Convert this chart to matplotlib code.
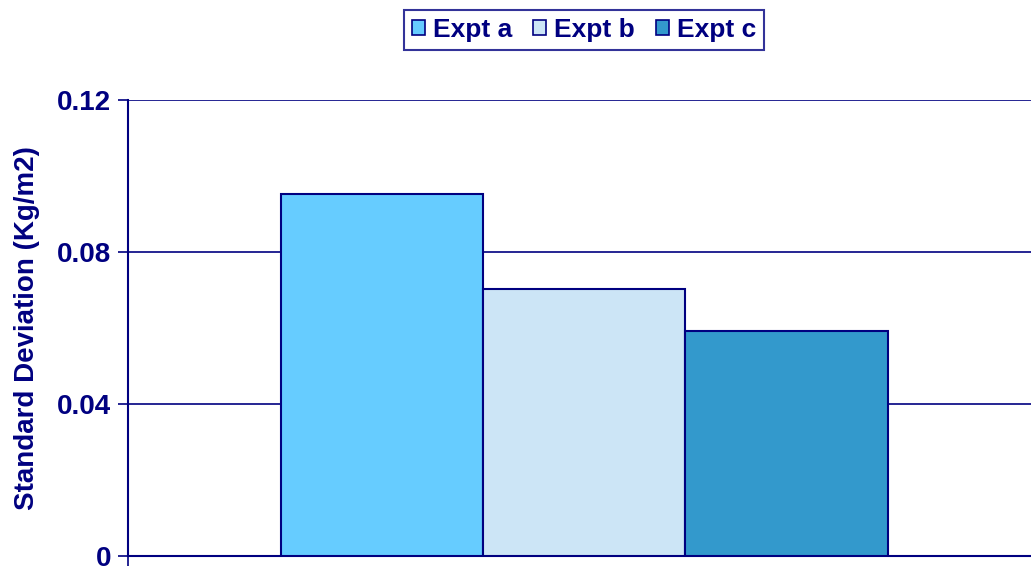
import matplotlib.pyplot as plt
from matplotlib.patches import Patch

plt.rcParams['font.family'] = ['Liberation Sans', 'DejaVu Sans']

series = ['Expt a', 'Expt b', 'Expt c']
values = [0.0953, 0.0703, 0.0592]
colors = ['#66CCFF', '#CCE5F6', '#3399CC']
yticks = [0, 0.04, 0.08, 0.12]
ytick_labels = ['0', '0.04', '0.08', '0.12']

navy = '#000080'

fig = plt.figure(figsize=(10.31, 5.66), dpi=100)
ax = fig.add_axes([128 / 1031, 10 / 566, 1 - 128 / 1031 + 0.01, 456 / 566])

pos = [-1, 0, 1]
ax.bar(pos, values, width=1.0, color=colors, edgecolor=navy, linewidth=1.5, zorder=3)

ax.set_xlim(-2.257, 2.26)
ax.set_ylim(0, 0.12)
ax.set_yticks(yticks)
ax.set_yticklabels(ytick_labels, fontsize=20, fontweight='bold', color=navy)
ax.set_xticks([-2.257])
ax.set_xticklabels([''])
ax.tick_params(axis='y', direction='out', length=7, width=1.2, color=navy, pad=5)
ax.tick_params(axis='x', direction='out', length=7, width=1.2, color=navy)

ax.grid(axis='y', color=navy, linewidth=1.2, zorder=0)
for s in ['top', 'right']:
    ax.spines[s].set_visible(False)
ax.spines['left'].set_color(navy)
ax.spines['left'].set_linewidth(1.5)
ax.spines['bottom'].set_color(navy)
ax.spines['bottom'].set_linewidth(1.5)

ax.set_ylabel('Standard Deviation (Kg/m2)', fontsize=20, fontweight='bold',
              color=navy, labelpad=12)

handles = [Patch(facecolor=c, edgecolor=navy, linewidth=1.2) for c in colors]
leg = fig.legend(handles, series, loc='center', bbox_to_anchor=(584 / 1031, 1 - 30 / 566),
                 ncol=3, frameon=True, fancybox=False, handlelength=0.5, handleheight=0.5,
                 handletextpad=0.3, columnspacing=0.8, borderpad=0.3, borderaxespad=0,
                 prop={'size': 19, 'weight': 'bold'})
leg.get_frame().set_edgecolor(navy)
leg.get_frame().set_linewidth(1.5)
for t in leg.get_texts():
    t.set_color(navy)

fig.savefig('out.png', dpi=100)
